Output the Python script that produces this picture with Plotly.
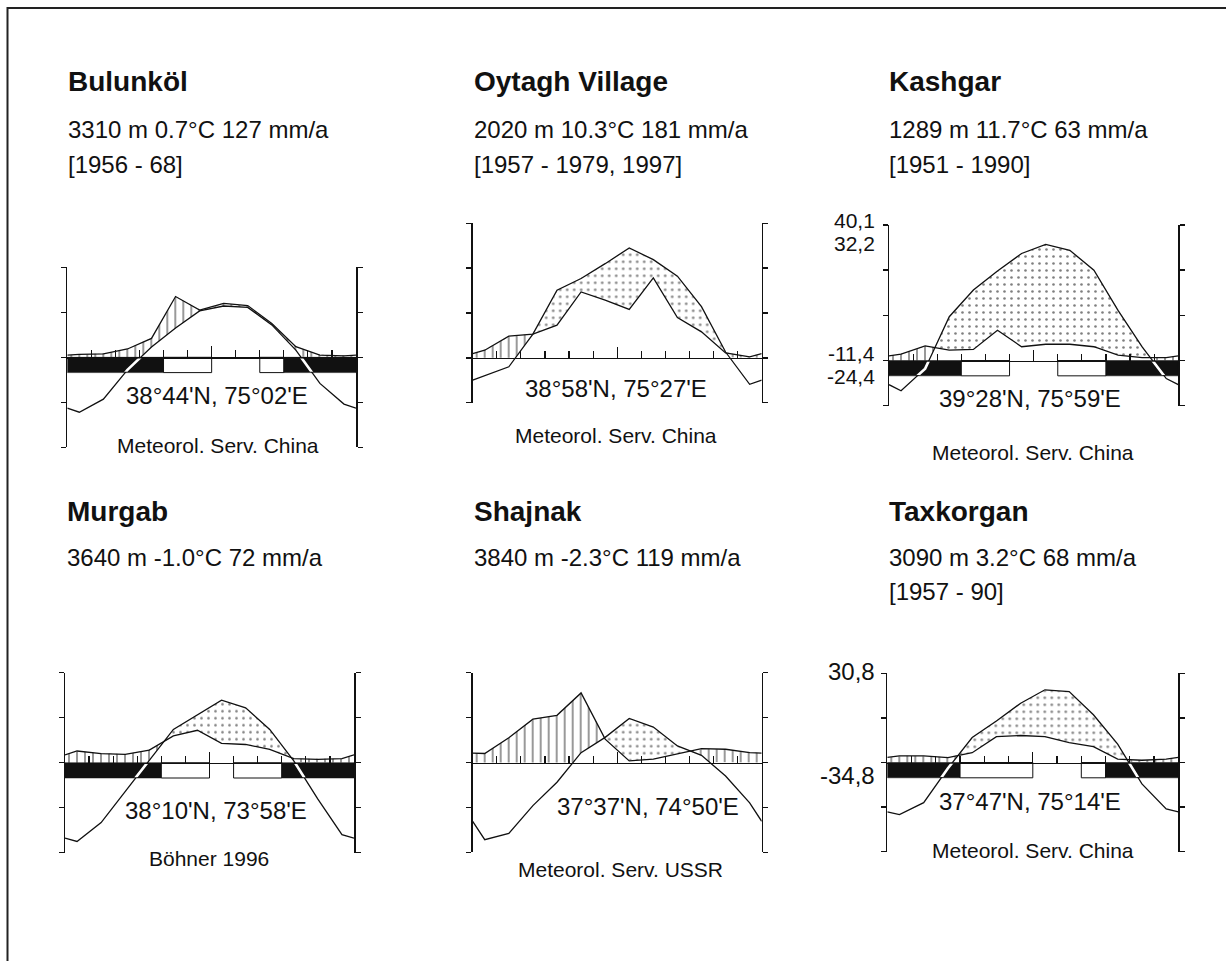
import numpy as np
import plotly.graph_objects as go

W, H = 1226, 961

# ---------------- data ----------------
names = ["Bulunköl", "Oytagh Village", "Kashgar", "Murgab", "Shajnak", "Taxkorgan"]
info = ["3310 m 0.7°C 127 mm/a", "2020 m 10.3°C 181 mm/a", "1289 m 11.7°C 63 mm/a",
        "3640 m -1.0°C 72 mm/a", "3840 m -2.3°C 119 mm/a", "3090 m 3.2°C 68 mm/a"]
periods = ["[1956 - 68]", "[1957 - 1979, 1997]", "[1951 - 1990]", "", "", "[1957 - 90]"]
coords = ["38°44'N, 75°02'E", "38°58'N, 75°27'E", "39°28'N, 75°59'E",
          "38°10'N, 73°58'E", "37°37'N, 74°50'E", "37°47'N, 75°14'E"]
sources = ["Meteorol. Serv. China", "Meteorol. Serv. China", "Meteorol. Serv. China",
           "Böhner 1996", "Meteorol. Serv. USSR", "Meteorol. Serv. China"]

# monthly mean temperature (°C), Jan..Dec
temp_bulunkol = [-12.2, -9.3, -2.8, 2.3, 6.5, 10.3, 11.4, 11.1, 7.2, 1.6, -5.8, -10.4]
temp_oytagh = [-4.0, -2.0, 5.3, 15.1, 17.7, 21.0, 24.5, 21.9, 18.2, 11.4, 1.3, -5.9]
temp_kashgar = [-6.7, -1.8, 9.7, 15.6, 19.8, 23.7, 25.7, 24.4, 20.0, 11.1, 3.0, -4.0]
temp_murgab = [-17.5, -13.3, -6.3, 0.5, 7.4, 10.7, 13.9, 12.2, 7.4, 0.4, -8.1, -16.0]
temp_shajnak = [-17.2, -15.8, -9.6, -4.4, 2.2, 5.6, 9.8, 7.9, 3.7, 1.6, -3.0, -9.0]
temp_taxkorgan = [-11.7, -9.0, -1.3, 5.6, 9.3, 13.3, 16.3, 15.9, 10.7, 4.1, -4.8, -10.4]

# monthly precipitation (mm), Jan..Dec
prec_bulunkol = [1.3, 1.5, 3.7, 8.4, 27.0, 21.0, 24.0, 23.0, 15.0, 4.7, 1.0, 0.6]
prec_oytagh = [3.4, 9.7, 10.6, 14.6, 29.4, 25.7, 21.6, 35.7, 18.0, 11.6, 2.2, 0.4]
prec_kashgar = [2.8, 6.5, 4.6, 4.9, 13.4, 6.1, 7.2, 7.2, 6.1, 2.4, 1.3, 1.3]
prec_murgab = [5.2, 4.0, 3.7, 5.6, 11.9, 14.4, 8.6, 8.1, 5.9, 1.8, 1.5, 1.8]
prec_shajnak = [4.0, 11.0, 19.3, 21.0, 31.0, 10.4, 0.7, 1.5, 3.7, 6.2, 5.9, 4.4]
prec_taxkorgan = [3.0, 3.0, 2.2, 4.4, 11.6, 12.1, 11.6, 8.9, 7.1, 1.5, 1.0, 1.5]

# frost: 2 = mean daily min < 0 (black), 1 = absolute min < 0 (white box), 0 = none
frost_bulunkol = [2, 2, 2, 2, 1, 1, 0, 0, 1, 2, 2, 2]
frost_oytagh = None
frost_kashgar = [2, 2, 2, 1, 1, 0, 0, 1, 1, 2, 2, 2]
frost_murgab = [2, 2, 2, 2, 1, 1, 0, 1, 1, 2, 2, 2]
frost_shajnak = None
frost_taxkorgan = [2, 2, 2, 1, 1, 1, 0, 0, 1, 2, 2, 2]

# extreme temperature labels
kashgar_labels = ["40,1", "32,2", "-11,4", "-24,4"]
taxkorgan_labels = ["30,8", "-34,8"]

temps = [temp_bulunkol, temp_oytagh, temp_kashgar, temp_murgab, temp_shajnak, temp_taxkorgan]
precs = [prec_bulunkol, prec_oytagh, prec_kashgar, prec_murgab, prec_shajnak, prec_taxkorgan]
frosts = [frost_bulunkol, frost_oytagh, frost_kashgar, frost_murgab, frost_shajnak, frost_taxkorgan]

# ---------------- layout geometry (pixels) ----------------
geo = [
    dict(L=67.3, R=356.0, top=267.3, bottom=447.3, ymin=-20, ymax=20),
    dict(L=472.7, R=761.7, top=223.3, bottom=402.7, ymin=-10, ymax=30),
    dict(L=889.0, R=1178.3, top=225.0, bottom=405.7, ymin=-10, ymax=30),
    dict(L=65.0, R=354.0, top=672.7, bottom=852.7, ymin=-20, ymax=20),
    dict(L=472.7, R=761.7, top=672.7, bottom=852.3, ymin=-20, ymax=20),
    dict(L=887.3, R=1178.3, top=673.3, bottom=851.7, ymin=-20, ymax=20),
]
title_x = [66, 472, 887, 65, 472, 887]
row_title_y = [81, 511]
row_info_y = [130, 557]
row_period_y = [165, 591]
coord_pos = [(216.7, 395.7), (616.3, 388.3), (1030, 398.3), (215.8, 810), (648.3, 806.7), (1030, 801.7)]
source_pos = [(217.5, 445), (615.8, 435.8), (1032.5, 452.5), (209, 858), (620, 869), (1032.5, 850)]
kashgar_label_y = [221, 243, 354, 376]
taxkorgan_label_y = [671.7, 775]
BAR_PX = 15.3

FONT = "Liberation Sans, Arial, Helvetica, sans-serif"
INK = "#111111"


def px2x(p):
    return p / W


def px2y(p):
    return 1 - p / H


def ext(vals):
    v = np.asarray(vals, float)
    e = (v[0] + v[-1]) / 2.0
    return np.concatenate([[e], v, [e]])


xn = np.concatenate([[0.0], np.arange(12) + 0.5, [12.0]])
xg = np.linspace(0, 12, 1201)

fig = go.Figure()
layout = dict(
    width=W, height=H,
    margin=dict(l=0, r=0, t=0, b=0),
    paper_bgcolor="white", plot_bgcolor="rgba(0,0,0,0)",
    showlegend=False,
)
shapes = []
annotations = []

n_main = len(geo)
band_id = n_main
for i, (g, T, P, fr) in enumerate(zip(geo, temps, precs, frosts)):
    k = "" if i == 0 else str(i + 1)
    xa, ya = "x" + k, "y" + k
    upp = (g["ymax"] - g["ymin"]) / (g["bottom"] - g["top"])  # units per pixel
    zero_px = g["top"] + g["ymax"] / upp

    Tl = ext(T)
    Pl = ext(P) / 2.0  # 10 °C = 20 mm
    Tg = np.interp(xg, xn, Tl)
    Pg = np.interp(xg, xn, Pl)
    T0 = np.maximum(Tg, 0)

    # humid (hatched) region
    up_h = np.maximum(Pg, T0)
    fig.add_trace(go.Scatter(
        x=np.concatenate([xg, xg[::-1]]), y=np.concatenate([up_h, T0[::-1]]),
        xaxis=xa, yaxis=ya, mode="lines", line=dict(width=0),
        fill="toself", fillcolor="rgba(0,0,0,0)",
        fillpattern=dict(shape="|", fgcolor="#000000", bgcolor="rgba(0,0,0,0)", size=8, solidity=0.2),
        hoverinfo="skip"))
    # arid (dotted) region
    up_d = np.maximum(Tg, Pg)
    fig.add_trace(go.Scatter(
        x=np.concatenate([xg, xg[::-1]]), y=np.concatenate([up_d, Pg[::-1]]),
        xaxis=xa, yaxis=ya, mode="lines", line=dict(width=0),
        fill="toself", fillcolor="rgba(0,0,0,0)",
        fillpattern=dict(shape=".", fgcolor="#000000", bgcolor="rgba(0,0,0,0)", size=7, solidity=0.11),
        hoverinfo="skip"))
    # curves
    fig.add_trace(go.Scatter(x=xn, y=Pl, xaxis=xa, yaxis=ya, mode="lines",
                             line=dict(color=INK, width=1.3), hoverinfo="skip"))
    fig.add_trace(go.Scatter(x=xn, y=Tl, xaxis=xa, yaxis=ya, mode="lines",
                             line=dict(color=INK, width=1.3), hoverinfo="skip"))

    layout["xaxis" + k] = dict(
        domain=[px2x(g["L"]), px2x(g["R"])], range=[0, 12],
        anchor="free", position=px2y(zero_px),
        showgrid=False, zeroline=False, showticklabels=False,
        showline=True, linecolor=INK, linewidth=1.5,
        ticks="inside", tick0=0, dtick=6, ticklen=11, tickwidth=1.3, tickcolor=INK,
        minor=dict(dtick=1, tick0=0, ticks="inside", ticklen=7, tickwidth=1.2, tickcolor=INK),
        fixedrange=True)
    layout["yaxis" + k] = dict(
        domain=[px2y(g["bottom"]), px2y(g["top"])], range=[g["ymin"], g["ymax"]],
        anchor=xa, showgrid=False, zeroline=False, showticklabels=False,
        showline=True, mirror="ticks", linecolor=INK, linewidth=1.5,
        ticks="outside", ticklen=5, tickwidth=1.5, tickcolor=INK,
        tickvals=list(range(g["ymin"], g["ymax"] + 1, 10)), fixedrange=True)

    # frost bars
    if fr is not None:
        bar_u = BAR_PX * upp
        runs = []
        start = 0
        for m in range(1, 13):
            if m == 12 or fr[m] != fr[start]:
                runs.append((start, m, fr[start]))
                start = m
        for a, b, c in runs:
            if c == 0:
                continue
            shapes.append(dict(
                type="rect", xref=xa, yref=ya, x0=a, x1=b, y0=0, y1=-bar_u,
                fillcolor=INK if c == 2 else "white",
                line=dict(color=INK, width=1 if c == 1 else 0.5), layer="below"))
        # white temperature line through the black bar band
        band_id += 1
        bk = str(band_id)
        fig.add_trace(go.Scatter(x=xn, y=Tl, xaxis="x" + bk, yaxis="y" + bk, mode="lines",
                                 line=dict(color="white", width=2.6), hoverinfo="skip"))
        layout["xaxis" + bk] = dict(domain=[px2x(g["L"]), px2x(g["R"])], range=[0, 12],
                                    anchor="y" + bk, visible=False, fixedrange=True)
        layout["yaxis" + bk] = dict(domain=[px2y(zero_px + BAR_PX - 0.8), px2y(zero_px + 1.2)],
                                    range=[-(BAR_PX - 0.8) * upp, -1.2 * upp],
                                    anchor="x" + bk, visible=False, fixedrange=True)

    row = 0 if i < 3 else 1
    annotations.append(dict(xref="paper", yref="paper", x=px2x(title_x[i]), y=px2y(row_title_y[row]),
                            xanchor="left", yanchor="middle", showarrow=False, text=names[i],
                            font=dict(family=FONT, size=28, color=INK, weight="bold")))
    annotations.append(dict(xref="paper", yref="paper", x=px2x(title_x[i]), y=px2y(row_info_y[row]),
                            xanchor="left", yanchor="middle", showarrow=False, text=info[i],
                            font=dict(family=FONT, size=24, color=INK)))
    if periods[i]:
        annotations.append(dict(xref="paper", yref="paper", x=px2x(title_x[i]), y=px2y(row_period_y[row]),
                                xanchor="left", yanchor="middle", showarrow=False, text=periods[i],
                                font=dict(family=FONT, size=24, color=INK)))
    cx, cy = coord_pos[i]
    annotations.append(dict(xref="paper", yref="paper", x=px2x(cx), y=px2y(cy),
                            xanchor="center", yanchor="middle", showarrow=False, text=coords[i],
                            font=dict(family=FONT, size=24, color=INK)))
    sx, sy = source_pos[i]
    annotations.append(dict(xref="paper", yref="paper", x=px2x(sx), y=px2y(sy),
                            xanchor="center", yanchor="middle", showarrow=False, text=sources[i],
                            font=dict(family=FONT, size=21, color=INK)))

for lab, yy in zip(kashgar_labels, kashgar_label_y):
    annotations.append(dict(xref="paper", yref="paper", x=px2x(877), y=px2y(yy),
                            xanchor="right", yanchor="middle", showarrow=False, text=lab,
                            font=dict(family=FONT, size=21, color=INK)))
for lab, yy in zip(taxkorgan_labels, taxkorgan_label_y):
    annotations.append(dict(xref="paper", yref="paper", x=px2x(877), y=px2y(yy),
                            xanchor="right", yanchor="middle", showarrow=False, text=lab,
                            font=dict(family=FONT, size=24, color=INK)))

# outer frame (left and top edges visible)
shapes.append(dict(type="rect", xref="paper", yref="paper",
                   x0=px2x(7.5), x1=px2x(W + 10), y0=px2y(H + 10), y1=px2y(8),
                   line=dict(color="#222222", width=2), fillcolor="rgba(0,0,0,0)", layer="above"))

layout["shapes"] = shapes
layout["annotations"] = annotations
fig.update_layout(**layout)
fig.write_html(
    "out.html",
    config={"displayModeBar": False, "staticPlot": True},
    post_script="document.body.style.margin='0px';document.body.style.padding='0px';"
                "document.documentElement.style.overflow='hidden';",
)
